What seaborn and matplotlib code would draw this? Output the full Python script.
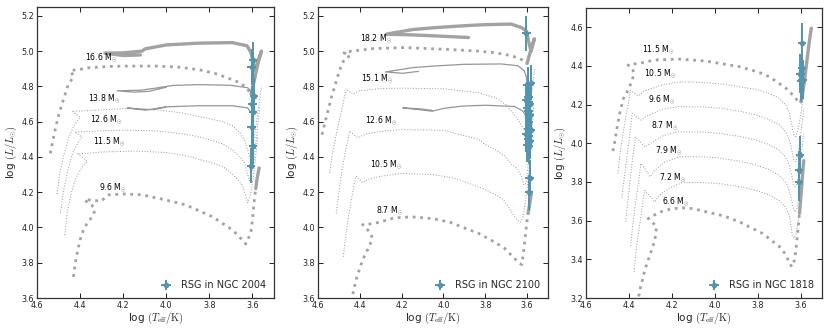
import matplotlib
matplotlib.use("Agg")
import matplotlib.pyplot as plt
import numpy as np
import pandas as pd
import seaborn as sns

# ---------------- data: (log Teff, log L) pairs ----------------
# NGC 2004 panel
n2004_m166_H = [(4.538,4.42),(4.522,4.52),(4.499,4.64),(4.476,4.73),(4.455,4.81),(4.43,4.855),(4.445,4.89),(4.41,4.895),(4.36,4.905),(4.28,4.912),(4.2,4.915),(4.05,4.915),(3.95,4.91),(3.85,4.895),(3.77,4.872),(3.71,4.845),(3.66,4.822),(3.629,4.794),(3.606,4.756)]
n2004_m166_He = [(3.606,4.756),(3.592,4.83),(3.578,4.91),(3.566,4.97),(3.558,5.0),(3.572,4.95),(3.59,4.89),(3.598,4.94),(3.606,4.99),(3.625,5.03),(3.693,5.048),(3.85,5.045),(4.0,5.035),(4.1,5.012),(4.112,5.0),(4.2,4.99),(4.285,4.988),(4.2,4.975),(4.12,4.978)]
n2004_m138_H = [(4.507,4.19),(4.495,4.30),(4.478,4.40),(4.455,4.50),(4.43,4.575),(4.40,4.625),(4.437,4.66),(4.40,4.66),(4.33,4.665),(4.2,4.674),(4.05,4.668),(3.93,4.65),(3.83,4.625),(3.74,4.60),(3.69,4.575),(3.655,4.53),(3.635,4.49),(3.62,4.43),(3.61,4.39),(3.6,4.43),(3.587,4.55),(3.572,4.68),(3.558,4.80)]
n2004_m138_He = [(3.596,4.72),(3.603,4.765),(3.622,4.792),(3.70,4.806),(3.85,4.81),(3.97,4.805),(4.05,4.79),(4.12,4.778),(4.228,4.775),(4.15,4.767),(4.08,4.772),(4.0,4.795)]
n2004_m126_H = [(4.491,4.08),(4.478,4.20),(4.46,4.31),(4.435,4.42),(4.41,4.48),(4.391,4.513),(4.425,4.54),(4.39,4.542),(4.3,4.548),(4.2,4.552),(4.05,4.548),(3.92,4.53),(3.85,4.515),(3.78,4.49),(3.74,4.475),(3.70,4.445),(3.675,4.42),(3.655,4.395),(3.637,4.367),(3.622,4.30),(3.614,4.265),(3.604,4.30),(3.59,4.41),(3.578,4.55),(3.566,4.68)]
n2004_m126_He = [(3.594,4.60),(3.60,4.64),(3.623,4.678),(3.693,4.69),(3.85,4.69),(4.003,4.684),(4.06,4.672),(4.096,4.665),(4.181,4.678),(4.12,4.671),(4.06,4.668),(4.003,4.682)]
n2004_m115_H = [(4.471,3.957),(4.46,4.08),(4.442,4.19),(4.42,4.28),(4.39,4.34),(4.367,4.375),(4.412,4.418),(4.37,4.42),(4.3,4.428),(4.15,4.433),(4.0,4.425),(3.9,4.405),(3.8,4.37),(3.74,4.348),(3.69,4.30),(3.66,4.26),(3.645,4.234),(3.632,4.18),(3.622,4.14),(3.61,4.18),(3.597,4.28),(3.585,4.40),(3.575,4.52)]
n2004_m115_He = []
n2004_m96_H = [(4.431,3.72),(4.42,3.816),(4.40,3.93),(4.381,3.998),(4.361,4.034),(4.343,4.063),(4.33,4.10),(4.345,4.125),(4.36,4.135),(4.38,4.158),(4.34,4.155),(4.304,4.148),(4.267,4.185),(4.197,4.19),(4.112,4.185),(4.003,4.156),(3.91,4.128),(3.786,4.061),(3.693,3.986),(3.654,3.938),(3.631,3.906),(3.608,3.967),(3.60,4.043),(3.592,4.147),(3.585,4.22)]
n2004_m96_He = [(3.585,4.22),(3.578,4.28),(3.569,4.337)]
n2004_masses = ["16.6", "13.8", "12.6", "11.5", "9.6"]
n2004_label_T = [4.378, 4.363, 4.352, 4.34, 4.313]
n2004_label_L = [4.963, 4.73, 4.612, 4.485, 4.228]
rsg2004_T = [3.597, 3.603, 3.592, 3.601, 3.597, 3.604, 3.597, 3.607]
rsg2004_L = [4.95, 4.91, 4.745, 4.70, 4.655, 4.57, 4.46, 4.35]

# NGC 2100 panel
n2100_m182_H = [(4.581,4.526),(4.557,4.64),(4.534,4.745),(4.51,4.84),(4.487,4.925),(4.47,4.96),(4.447,4.972),(4.463,4.985),(4.476,4.99),(4.44,5.0),(4.40,5.005),(4.337,5.014),(4.187,5.02),(3.99,5.01),(3.833,5.0),(3.75,4.99),(3.68,4.975),(3.64,4.96),(3.615,4.945),(3.60,4.93)]
n2100_m182_He = [(3.60,4.93),(3.586,4.99),(3.574,5.04),(3.565,5.07),(3.574,5.03),(3.581,5.0),(3.59,5.04),(3.597,5.08),(3.605,5.115),(3.628,5.134),(3.676,5.153),(3.8,5.15),(3.912,5.143),(4.05,5.132),(4.148,5.122),(4.274,5.096),(4.15,5.092),(4.038,5.086),(3.88,5.077)]
n2100_m151_H = [(4.545,4.308),(4.53,4.42),(4.512,4.53),(4.495,4.62),(4.48,4.70),(4.466,4.784),(4.45,4.77),(4.434,4.756),(4.40,4.775),(4.3,4.788),(4.195,4.79),(4.0,4.786),(3.833,4.764),(3.75,4.735),(3.70,4.695),(3.665,4.645),(3.644,4.613),(3.625,4.575),(3.612,4.556),(3.603,4.54),(3.594,4.60),(3.58,4.75),(3.563,4.90)]
n2100_m151_He = [(3.597,4.80),(3.605,4.86),(3.615,4.89),(3.644,4.917),(3.723,4.927),(3.9,4.925),(4.05,4.915),(4.148,4.906),(4.277,4.882),(4.195,4.874),(4.12,4.885)]
n2100_m126_H = [(4.513,4.08),(4.50,4.20),(4.487,4.31),(4.472,4.41),(4.458,4.49),(4.45,4.547),(4.43,4.528),(4.411,4.509),(4.37,4.53),(4.3,4.545),(4.195,4.555),(4.0,4.551),(3.833,4.50),(3.80,4.47),(3.75,4.44),(3.707,4.405),(3.676,4.36),(3.644,4.33),(3.628,4.29),(3.615,4.24),(3.605,4.25),(3.592,4.38),(3.578,4.54),(3.568,4.68)]
n2100_m126_He = [(3.598,4.60),(3.605,4.63),(3.62,4.66),(3.66,4.686),(3.80,4.693),(3.912,4.688),(4.0,4.675),(4.054,4.659),(4.117,4.668),(4.195,4.678),(4.117,4.673),(4.054,4.664)]
n2100_m105_H = [(4.479,3.834),(4.468,3.95),(4.455,4.06),(4.44,4.16),(4.428,4.24),(4.419,4.291),(4.40,4.27),(4.387,4.253),(4.363,4.272),(4.3,4.29),(4.206,4.306),(4.048,4.30),(3.95,4.28),(3.89,4.255),(3.80,4.215),(3.75,4.185),(3.72,4.165),(3.69,4.12),(3.665,4.07),(3.645,4.04),(3.632,4.03),(3.62,4.06),(3.61,4.13),(3.60,4.22),(3.59,4.33),(3.58,4.45)]
n2100_m105_He = []
n2100_m87_H = [(4.438,3.58),(4.43,3.645),(4.414,3.72),(4.395,3.787),(4.379,3.835),(4.355,3.892),(4.34,3.94),(4.35,3.97),(4.363,3.987),(4.387,4.016),(4.35,4.02),(4.308,4.029),(4.237,4.054),(4.15,4.06),(4.05,4.05),(3.969,4.03),(3.906,4.0),(3.833,3.967),(3.76,3.92),(3.707,3.881),(3.66,3.824),(3.636,3.795),(3.625,3.79),(3.62,3.834),(3.613,3.90),(3.607,3.967),(3.60,4.04),(3.595,4.08)]
n2100_m87_He = [(3.595,4.08),(3.588,4.13),(3.58,4.19)]
n2100_masses = ["18.2", "15.1", "12.6", "10.5", "8.7"]
n2100_label_T = [4.40, 4.392, 4.376, 4.35, 4.321]
n2100_label_L = [5.07, 4.843, 4.606, 4.359, 4.094]
rsg2100_T = [3.603, 3.583, 3.598, 3.594, 3.604, 3.59, 3.585, 3.60, 3.593, 3.588, 3.592, 3.597, 3.582, 3.603, 3.59, 3.595, 3.585, 3.60, 3.592, 3.588, 3.59]
rsg2100_L = [5.10, 4.82, 4.81, 4.74, 4.72, 4.71, 4.70, 4.68, 4.66, 4.64, 4.60, 4.56, 4.55, 4.53, 4.52, 4.50, 4.49, 4.47, 4.46, 4.28, 4.20]

# NGC 1818 panel
n1818_m115_H = [(4.475,3.96),(4.467,4.0),(4.457,4.07),(4.442,4.16),(4.426,4.23),(4.40,4.284),(4.385,4.327),(4.376,4.36),(4.384,4.388),(4.404,4.405),(4.38,4.41),(4.349,4.414),(4.279,4.431),(4.169,4.436),(4.044,4.426),(3.887,4.397),(3.8,4.37),(3.746,4.345),(3.70,4.31),(3.667,4.284),(3.628,4.241),(3.605,4.207),(3.598,4.215)]
n1818_m115_He = [(3.598,4.215),(3.59,4.26),(3.58,4.34),(3.57,4.43),(3.56,4.52),(3.55,4.595)]
n1818_m105_H = [(4.451,3.844),(4.44,3.96),(4.426,4.06),(4.412,4.15),(4.40,4.22),(4.395,4.275),(4.375,4.26),(4.357,4.245),(4.33,4.27),(4.248,4.301),(4.169,4.317),(4.091,4.317),(3.965,4.307),(3.88,4.292),(3.808,4.279),(3.75,4.26),(3.699,4.233),(3.67,4.20),(3.652,4.155),(3.64,4.09),(3.632,4.045),(3.622,4.035),(3.612,4.07),(3.60,4.14),(3.59,4.22),(3.58,4.32)]
n1818_m105_He = []
n1818_m96_H = [(4.433,3.72),(4.422,3.82),(4.41,3.92),(4.398,4.02),(4.39,4.10),(4.385,4.155),(4.36,4.135),(4.342,4.12),(4.326,4.135),(4.25,4.175),(4.169,4.19),(4.05,4.188),(3.965,4.181),(3.88,4.165),(3.808,4.147),(3.75,4.125),(3.699,4.095),(3.67,4.06),(3.652,4.017),(3.64,3.96),(3.632,3.915),(3.624,3.905),(3.614,3.935),(3.604,4.0),(3.594,4.09),(3.585,4.18)]
n1818_m96_He = []
n1818_m87_H = [(4.415,3.595),(4.405,3.70),(4.395,3.80),(4.385,3.90),(4.375,3.98),(4.37,4.034),(4.345,4.005),(4.326,3.982),(4.30,4.0),(4.24,4.04),(4.17,4.06),(4.05,4.058),(3.965,4.05),(3.88,4.035),(3.808,4.017),(3.75,3.995),(3.70,3.965),(3.67,3.93),(3.652,3.885),(3.64,3.83),(3.632,3.785),(3.625,3.775),(3.615,3.80),(3.605,3.87),(3.595,3.96),(3.585,4.05)]
n1818_m87_He = []
n1818_m79_H = [(4.392,3.469),(4.383,3.57),(4.372,3.67),(4.36,3.76),(4.35,3.84),(4.345,3.896),(4.32,3.86),(4.302,3.827),(4.28,3.86),(4.23,3.905),(4.16,3.931),(4.05,3.93),(3.965,3.922),(3.88,3.907),(3.808,3.888),(3.75,3.865),(3.70,3.835),(3.67,3.80),(3.652,3.755),(3.64,3.70),(3.632,3.655),(3.625,3.645),(3.615,3.67),(3.605,3.74),(3.595,3.83),(3.585,3.92)]
n1818_m79_He = []
n1818_m72_H = [(4.376,3.336),(4.367,3.44),(4.355,3.54),(4.343,3.63),(4.333,3.71),(4.326,3.757),(4.30,3.725),(4.279,3.697),(4.26,3.73),(4.21,3.77),(4.15,3.797),(4.05,3.797),(3.965,3.79),(3.88,3.775),(3.808,3.757),(3.75,3.735),(3.70,3.705),(3.67,3.67),(3.652,3.625),(3.644,3.57),(3.638,3.52),(3.63,3.51),(3.62,3.535),(3.61,3.60),(3.60,3.69),(3.59,3.78)]
n1818_m72_He = []
n1818_m66_H = [(4.36,3.17),(4.349,3.241),(4.337,3.293),(4.326,3.345),(4.31,3.397),(4.294,3.448),(4.279,3.50),(4.271,3.569),(4.287,3.587),(4.31,3.611),(4.28,3.63),(4.248,3.647),(4.2,3.662),(4.15,3.666),(4.1,3.662),(4.044,3.647),(3.96,3.625),(3.887,3.595),(3.777,3.534),(3.699,3.466),(3.667,3.422),(3.652,3.379),(3.64,3.362),(3.628,3.397),(3.62,3.466),(3.612,3.552),(3.605,3.638)]
n1818_m66_He = [(3.605,3.638),(3.598,3.73),(3.59,3.85),(3.585,3.91)]
n1818_masses = ["11.5", "10.5", "9.6", "8.7", "7.9", "7.2", "6.6"]
n1818_label_T = [4.338, 4.329, 4.31, 4.297, 4.279, 4.26, 4.244]
n1818_label_L = [4.483, 4.359, 4.228, 4.091, 3.962, 3.822, 3.698]
rsg1818_T = [3.594, 3.594, 3.601, 3.59, 3.597, 3.602, 3.607, 3.608]
rsg1818_L = [4.52, 4.39, 4.36, 4.33, 4.32, 3.94, 3.86, 3.80]

rsg_err_T = 0.02
rsg_err_L = 0.10

# ---------------- style ----------------
sns.set_theme(style="ticks")
plt.rcParams["font.family"] = ["DejaVu Sans"]
plt.rcParams["mathtext.fontset"] = "cm"

TRACK_GREY = "#a2a2a2"
THIN_GREY = "#969696"
RSG_COLOR = "#5394ae"

fig = plt.figure(figsize=(8.3, 3.32), dpi=100)

panels = [
    dict(pos=[37/830, 34/332, 237/830, 291/332], ylim=(3.6, 5.25), yt=np.arange(3.6, 5.21, 0.2),
         tracks=[(n2004_m166_H, n2004_m166_He, True), (n2004_m138_H, n2004_m138_He, False),
                 (n2004_m126_H, n2004_m126_He, False), (n2004_m115_H, n2004_m115_He, False),
                 (n2004_m96_H, n2004_m96_He, True)],
         masses=n2004_masses, lT=n2004_label_T, lL=n2004_label_L,
         rT=rsg2004_T, rL=rsg2004_L, name="RSG in NGC 2004"),
    dict(pos=[318/830, 34/332, 230/830, 291/332], ylim=(3.6, 5.25), yt=np.arange(3.6, 5.21, 0.2),
         tracks=[(n2100_m182_H, n2100_m182_He, True), (n2100_m151_H, n2100_m151_He, False),
                 (n2100_m126_H, n2100_m126_He, False), (n2100_m105_H, n2100_m105_He, False),
                 (n2100_m87_H, n2100_m87_He, True)],
         masses=n2100_masses, lT=n2100_label_T, lL=n2100_label_L,
         rT=rsg2100_T, rL=rsg2100_L, name="RSG in NGC 2100"),
    dict(pos=[586/830, 34/332, 236/830, 290/332], ylim=(3.2, 4.7), yt=np.arange(3.2, 4.61, 0.2),
         tracks=[(n1818_m115_H, n1818_m115_He, True), (n1818_m105_H, n1818_m105_He, False),
                 (n1818_m96_H, n1818_m96_He, False), (n1818_m87_H, n1818_m87_He, False),
                 (n1818_m79_H, n1818_m79_He, False), (n1818_m72_H, n1818_m72_He, False),
                 (n1818_m66_H, n1818_m66_He, True)],
         masses=n1818_masses, lT=n1818_label_T, lL=n1818_label_L,
         rT=rsg1818_T, rL=rsg1818_L, name="RSG in NGC 1818"),
]


def draw_path(ax, pts, **kw):
    if len(pts) < 2:
        return
    df = pd.DataFrame(pts, columns=["logT", "logL"])
    sns.lineplot(data=df, x="logT", y="logL", sort=False, estimator=None, ax=ax, **kw)


for p in panels:
    ax = fig.add_axes(p["pos"])
    for H, He, thick in p["tracks"]:
        if thick:
            draw_path(ax, H, color=TRACK_GREY, lw=2.0, linestyle=(0, (1, 1.7)), zorder=2)
            draw_path(ax, He, color=TRACK_GREY, lw=2.4, linestyle="-", zorder=2)
        else:
            draw_path(ax, H, color=THIN_GREY, lw=0.7, linestyle=(0, (1, 1.8)), zorder=2)
            draw_path(ax, He, color=THIN_GREY, lw=0.9, linestyle="-", zorder=2)
    for m, t, l in zip(p["masses"], p["lT"], p["lL"]):
        ax.text(t, l, m + r" M$_{\odot}$", fontsize=5.6, ha="left", va="center", color="black", zorder=4)
    ax.errorbar(p["rT"], p["rL"], xerr=rsg_err_T, yerr=rsg_err_L, fmt="o", ms=3,
                color=RSG_COLOR, ecolor=RSG_COLOR, elinewidth=1.4, capsize=0,
                label=p["name"], zorder=5)
    ax.set_xlim(4.6, 3.5)
    ax.set_ylim(*p["ylim"])
    ax.set_xticks(np.arange(3.6, 4.61, 0.2))
    ax.set_xticklabels([f"{v:.1f}" for v in np.arange(3.6, 4.61, 0.2)])
    ax.set_yticks(p["yt"])
    ax.set_yticklabels([f"{v:.1f}" for v in p["yt"]])
    ax.tick_params(direction="in", top=True, right=True, length=3.5, width=0.7,
                   labelsize=5.8, pad=2, colors="#222222")
    for s in ax.spines.values():
        s.set_linewidth(0.9)
        s.set_color("#333333")
    ax.set_xlabel(r"log $(T_{\rm eff}/{\rm K})$", fontsize=7.5, labelpad=1)
    ax.set_ylabel(r"log $(L/L_{\odot})$", fontsize=7.5, labelpad=2)
    ax.legend(loc="lower right", frameon=False, fontsize=7, handlelength=1.5,
              handletextpad=0.8, borderaxespad=0.4)

fig.savefig("out.png", dpi=100)
